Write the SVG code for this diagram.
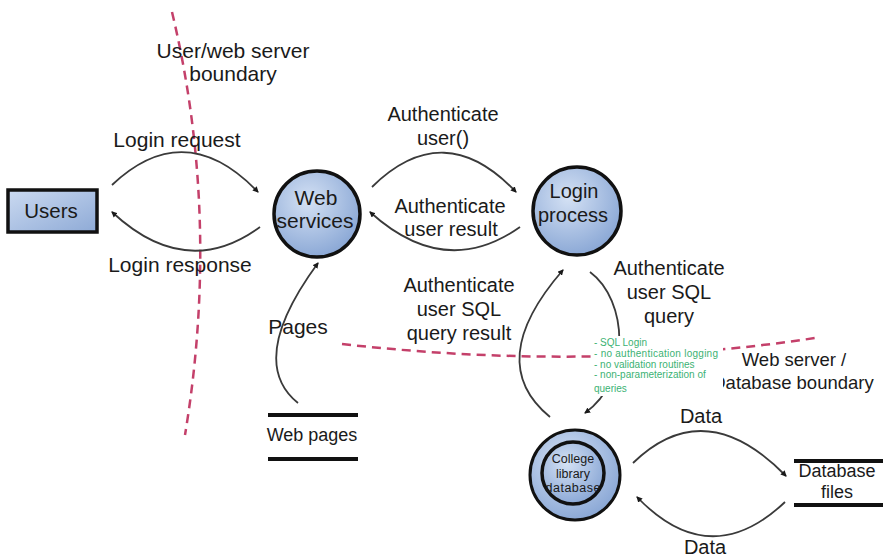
<svg xmlns="http://www.w3.org/2000/svg" width="886" height="559" viewBox="0 0 886 559">
<defs>
<radialGradient id="blue" cx="40%" cy="35%" r="70%">
<stop offset="0" stop-color="#d4e1f4"/>
<stop offset="1" stop-color="#87a5d4"/>
</radialGradient>
<linearGradient id="boxblue" x1="0" y1="0" x2="1" y2="1">
<stop offset="0" stop-color="#cbdaf1"/>
<stop offset="1" stop-color="#8eaad6"/>
</linearGradient>
<marker id="arr" viewBox="0 0 6 6" refX="5" refY="3" markerWidth="6" markerHeight="6" orient="auto" markerUnits="userSpaceOnUse">
<path d="M0,0 L6,3 L0,6 z" fill="#1a1a1a"/>
</marker>
<style>
text{font-family:"Liberation Sans",Arial,sans-serif;fill:#1a1a1a;}
.lbl{font-size:20px;text-anchor:middle;}
.node{fill:url(#blue);stroke:#111;stroke-width:3.5;}
.flow{fill:none;stroke:#3a3a3a;stroke-width:1.8;marker-end:url(#arr);}
.bound{fill:none;stroke:#c4406a;stroke-width:2.5;stroke-dasharray:9 6;}
.store{stroke:#111;stroke-width:4;}
.note{font-size:10px;fill:#3bb273;}
.db{font-size:12.5px;text-anchor:middle;}
</style>
</defs>

<g id="boundaries">
<path class="bound" d="M172,12 Q221,217 185,435"/>
<path class="bound" d="M342,344 Q590,372 815,338"/>
</g>

<g id="connectors">
<path class="flow" d="M112,185 Q185,116 258,192"/>
<path class="flow" d="M260,227 Q186,281 112,212"/>
<path class="flow" d="M372,187 Q444,116 516,192"/>
<path class="flow" d="M520,227 Q445,280 370,212"/>
<path class="flow" d="M298,403 Q246,361 318,263"/>
<path class="flow" d="M550,417 Q483,362 563,270"/>
<path class="flow" d="M590,272 C628,300 632,380 585,413"/>
<path class="flow" d="M633,463 Q705,393 786,476"/>
<path class="flow" d="M785,502 Q710,573 637,497"/>
</g>

<g id="labels">
<text class="lbl" style="font-size:21px" x="233" y="58">User/web server</text>
<text class="lbl" style="font-size:21px" x="233" y="81">boundary</text>
<text class="lbl" style="font-size:21px" x="177" y="147">Login request</text>
<text class="lbl" style="font-size:21px" x="180" y="272">Login response</text>
<text class="lbl" x="443" y="121">Authenticate</text>
<text class="lbl" x="443" y="145">user()</text>
<text class="lbl" x="450" y="213">Authenticate</text>
<text class="lbl" x="451" y="236">user result</text>
<text class="lbl" x="459" y="292">Authenticate</text>
<text class="lbl" x="459" y="316">user SQL</text>
<text class="lbl" x="459" y="340">query result</text>
<text class="lbl" x="669" y="275">Authenticate</text>
<text class="lbl" x="669" y="299">user SQL</text>
<text class="lbl" x="669" y="323">query</text>
<text class="lbl" style="font-size:21px" x="298" y="334">Pages</text>
<text class="lbl" style="font-size:18.5px" x="794" y="366">Web server /</text>
<text class="lbl" style="font-size:18.5px" x="793" y="389">Database boundary</text>
<text class="lbl" x="701" y="423">Data</text>
<text class="lbl" x="705" y="554">Data</text>
</g>

<g id="note">
<rect x="592" y="336" width="131" height="60" fill="#fff"/>
<text class="note" x="594" y="346">- SQL Login</text>
<text class="note" x="594" y="357" textLength="124">- no authentication logging</text>
<text class="note" x="594" y="367.5">- no validation routines</text>
<text class="note" x="594" y="378">- non-parameterization of</text>
<text class="note" x="594" y="392">queries</text>
</g>

<g id="users">
<rect x="8" y="190" width="89" height="42" fill="url(#boxblue)" stroke="#111" stroke-width="3.5"/>
<text class="lbl" style="font-size:20.5px" x="51" y="218">Users</text>
</g>

<g id="web-services">
<circle class="node" cx="317" cy="214" r="43"/>
<text class="lbl" style="font-size:21px" x="316" y="205">Web</text>
<text class="lbl" style="font-size:21px" x="315" y="228">services</text>
</g>

<g id="login-process">
<circle class="node" cx="577" cy="211" r="44"/>
<text class="lbl" x="574" y="198">Login</text>
<text class="lbl" x="573" y="222">process</text>
</g>

<g id="college-library-database">
<circle class="node" cx="575" cy="475" r="45" style="stroke-width:3"/>
<circle class="node" cx="573" cy="473" r="31"/>
<text class="db" x="573" y="463">College</text>
<text class="db" x="573" y="477.5">library</text>
<text class="db" x="573" y="492" textLength="55">database</text>
</g>

<g id="web-pages">
<line class="store" x1="268" y1="415" x2="358" y2="415"/>
<line class="store" x1="268" y1="459" x2="358" y2="459"/>
<text class="lbl" style="font-size:18px" x="312" y="441">Web pages</text>
</g>

<g id="database-files">
<line class="store" x1="794" y1="461" x2="883" y2="461"/>
<line class="store" x1="794" y1="505" x2="883" y2="505"/>
<text class="lbl" style="font-size:18px" x="837" y="477">Database</text>
<text class="lbl" style="font-size:18px" x="837" y="498">files</text>
</g>
</svg>
